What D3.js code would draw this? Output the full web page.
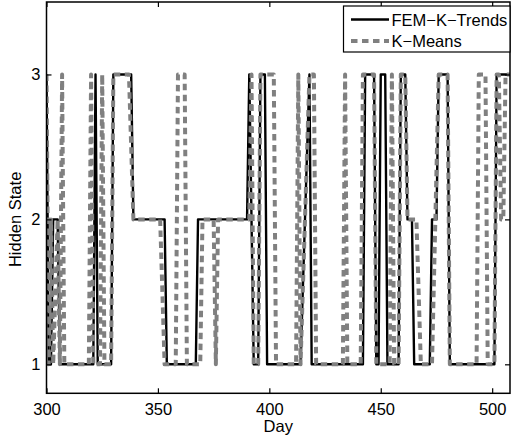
<!DOCTYPE html>
<html>
<head>
<meta charset="utf-8">
<script src="https://cdn.jsdelivr.net/npm/d3@7"></script>
<style>
  html, body { margin: 0; padding: 0; background: #ffffff; }
  svg { display: block; }
  text { font-family: "Liberation Sans", Arial, Helvetica, sans-serif; }
</style>
</head>
<body>
<div id="chart"></div>
<script>
// ---------- data ----------
const seriesNames = ["FEM\u2212K\u2212Trends", "K\u2212Means"];

// FEM-K-Trends: polyline vertices (day, hidden state)
const femDays = [300,301,302,303,305,306,321,322,323,329,330,338,339,353,354,367,368,390,391,393,395,396,398,399,414,418,419,442,443,447,448,449,450,452,453,458,459,461,462,464,465,472,473,475,476,480,481,501,502,508];
const femStates = [3,1,1,2,2,1,1,3,1,1,3,3,2,2,1,1,2,2,3,1,1,3,3,1,1,3,1,1,3,3,1,1,3,3,1,1,3,3,2,2,1,1,2,2,3,3,1,1,3,3];

// K-Means: polyline vertices (day, hidden state)
const kmDays = [300,301,302,303,305,306,307,308,319,320,321,324,325,326,329,330,337,339,351,353,358,359,362,363,369,370,375,376,377,391,392,393,395,396,402,403,412,413,414,418,420,421,433,434,435,441,442,447,448,454,455,456,458,459,461,462,466,468,473,476,480,481,493,494,497,498,501,502,503,504,505,506,508];
const kmStates = [3,1,2,1,2,1,3,1,1,3,1,1,3,1,1,3,3,2,2,1,1,3,3,1,1,2,2,1,2,2,3,1,1,3,3,1,1,3,1,3,3,1,1,3,1,1,3,3,1,1,3,1,1,3,3,2,2,1,1,3,3,1,1,3,3,1,1,3,3,2,2,3,3];

const xDomain = [300, 508];
const yDomain = [0.8, 3.5];
const xTickValues = [300, 350, 400, 450, 500];
const yTickValues = [1, 2, 3];
const xLabel = "Day";
const yLabel = "Hidden State";

(function () {
  // ---------- layout ----------
  const W = 511, H = 440;
  const pL = 46.5, pR = 510, pT = 2, pB = 393.3;
  const FONT = 16.5;

  const svg = d3.select("#chart").append("svg")
    .attr("width", W).attr("height", H)
    .attr("viewBox", `0 0 ${W} ${H}`);

  svg.append("rect").attr("width", W).attr("height", H).attr("fill", "#ffffff");

  const x = d3.scaleLinear().domain(xDomain).range([pL, pR]);
  const y = d3.scaleLinear().domain(yDomain).range([pB, pT]);

  svg.append("defs").append("clipPath").attr("id", "plotclip")
    .append("rect")
    .attr("x", pL).attr("y", pT)
    .attr("width", pR - pL).attr("height", pB - pT);

  const fem = femDays.map((d, i) => ({ day: d, state: femStates[i] }));
  const km = kmDays.map((d, i) => ({ day: d, state: kmStates[i] }));

  const line = d3.line().x(d => x(d.day)).y(d => y(d.state));

  const plot = svg.append("g").attr("clip-path", "url(#plotclip)");

  plot.append("path").datum(fem)
    .attr("d", line)
    .attr("fill", "none")
    .attr("stroke", "#000000")
    .attr("stroke-width", 2.4)
    .attr("stroke-linejoin", "round");

  plot.append("path").datum(km)
    .attr("d", line)
    .attr("fill", "none")
    .attr("stroke", "#808080")
    .attr("stroke-width", 4)
    .attr("stroke-dasharray", "6.5,4.5")
    .attr("stroke-linejoin", "round");

  // ---------- axes ----------
  function styleAxis(g) {
    g.select(".domain").remove();
    g.selectAll(".tick line").attr("stroke", "#000").attr("stroke-width", 1.2);
    g.selectAll(".tick text")
      .attr("fill", "#000")
      .style("font-size", FONT + "px")
      .style("font-family", "'Liberation Sans', Arial, Helvetica, sans-serif");
  }

  svg.append("g")
    .attr("transform", `translate(0,${pB})`)
    .call(d3.axisBottom(x).tickValues(xTickValues).tickSize(-5).tickPadding(10).tickFormat(d3.format("d")))
    .call(styleAxis);

  svg.append("g")
    .attr("transform", `translate(0,${pT})`)
    .call(d3.axisTop(x).tickValues(xTickValues).tickSize(-5).tickFormat(() => ""))
    .call(styleAxis);

  svg.append("g")
    .attr("transform", `translate(${pL},0)`)
    .call(d3.axisLeft(y).tickValues(yTickValues).tickSize(-5).tickPadding(6).tickFormat(d3.format("d")))
    .call(styleAxis);

  svg.append("g")
    .attr("transform", `translate(${pR},0)`)
    .call(d3.axisRight(y).tickValues(yTickValues).tickSize(-5).tickFormat(() => ""))
    .call(styleAxis);

  // frame
  svg.append("rect")
    .attr("x", pL).attr("y", pT)
    .attr("width", pR - pL).attr("height", pB - pT)
    .attr("fill", "none").attr("stroke", "#000").attr("stroke-width", 1.5);

  // axis labels
  svg.append("text")
    .attr("x", (pL + pR) / 2).attr("y", 432)
    .attr("text-anchor", "middle")
    .style("font-size", FONT + "px")
    .text(xLabel);

  svg.append("text")
    .attr("transform", `translate(21,${y(2)}) rotate(-90)`)
    .attr("text-anchor", "middle")
    .style("font-size", FONT + "px")
    .text(yLabel);

  // ---------- legend ----------
  const lg = svg.append("g");
  lg.append("rect")
    .attr("x", 343.5).attr("y", 6)
    .attr("width", pR - 343.5).attr("height", 46)
    .attr("fill", "#ffffff").attr("stroke", "#000").attr("stroke-width", 1.2);

  const legendRows = [
    { name: seriesNames[0], color: "#000000", width: 2.4, dash: null, cy: 19.5 },
    { name: seriesNames[1], color: "#808080", width: 4, dash: "6.5,4.5", cy: 41 }
  ];
  legendRows.forEach(r => {
    const l = lg.append("line")
      .attr("x1", 351).attr("x2", 389)
      .attr("y1", r.cy).attr("y2", r.cy)
      .attr("stroke", r.color).attr("stroke-width", r.width);
    if (r.dash) l.attr("stroke-dasharray", r.dash);
    lg.append("text")
      .attr("x", 391.5).attr("y", r.cy + 6)
      .style("font-size", FONT + "px")
      .text(r.name);
  });
})();
</script>
</body>
</html>
